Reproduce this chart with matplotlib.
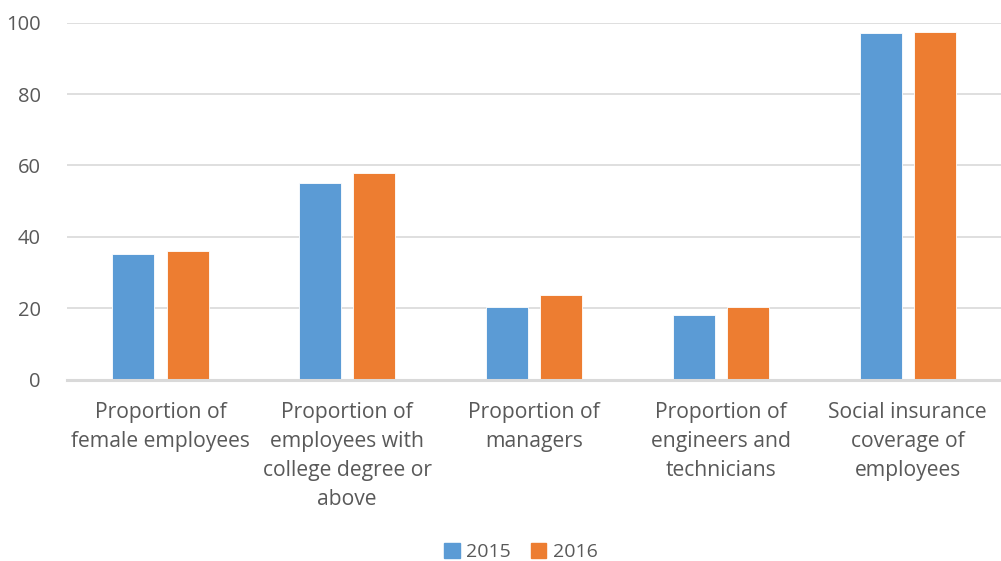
import numpy as np
import matplotlib
matplotlib.use("Agg")
import matplotlib.pyplot as plt
import matplotlib.patches as mpatches

plt.rcParams["font.family"] = ["Open Sans", "DejaVu Sans"]

categories = [
    "Proportion of\nfemale employees",
    "Proportion of\nemployees with\ncollege degree or\nabove",
    "Proportion of\nmanagers",
    "Proportion of\nengineers and\ntechnicians",
    "Social insurance\ncoverage of\nemployees",
]
years = ["2015", "2016"]
values_2015 = [35.1, 55.0, 20.4, 18.0, 97.0]
values_2016 = [36.0, 58.0, 23.7, 20.4, 97.3]

BLUE = "#5B9BD5"
ORANGE = "#ED7D31"
GREY_TXT = "#595959"
GRID = "#D9D9D9"

fig = plt.figure(figsize=(10.01, 5.61), dpi=100)
ax = fig.add_axes([0.067, 1 - 379.5 / 561, 0.933, (379.5 - 22.7) / 561])

x = np.arange(len(categories))
w = 0.225
off = 0.145
ax.bar(x - off, values_2015, width=w, color=BLUE, edgecolor="white", linewidth=0.6, zorder=3)
ax.bar(x + off, values_2016, width=w, color=ORANGE, edgecolor="white", linewidth=0.6, zorder=3)

ax.set_xlim(-0.5, len(categories) - 0.5)
ax.set_ylim(0, 100)
ax.set_yticks(range(0, 101, 20))
ax.yaxis.grid(True, color=GRID, linewidth=1.2, zorder=0)
ax.set_axisbelow(True)
for s in ["top", "right", "left"]:
    ax.spines[s].set_visible(False)
ax.spines["bottom"].set_color(GRID)
ax.spines["bottom"].set_linewidth(2.2)
ax.spines["bottom"].set_zorder(4)

ax.tick_params(axis="y", length=0, pad=19, labelsize=14.5, labelcolor=GREY_TXT)
ax.tick_params(axis="x", length=0, pad=16.5, labelsize=15.2, labelcolor=GREY_TXT)
ax.set_xticks(x)
ax.set_xticklabels(categories, linespacing=1.5)

handles = [mpatches.Patch(color=BLUE, label=years[0]),
           mpatches.Patch(color=ORANGE, label=years[1])]
fig.legend(handles=handles, loc="center", bbox_to_anchor=(521 / 1001, 1 - 552 / 561),
           ncol=2, frameon=False, fontsize=14, labelcolor=GREY_TXT,
           handlelength=0.8, handleheight=0.8, handletextpad=0.35, columnspacing=1.0)

fig.savefig("out.png", dpi=100)
